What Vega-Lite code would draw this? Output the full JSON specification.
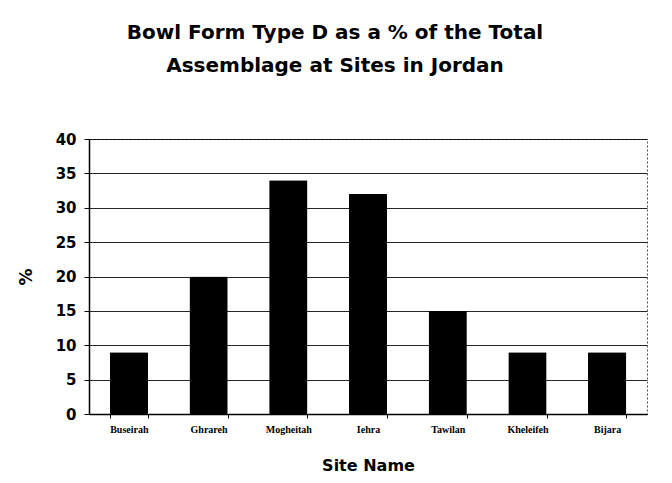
{
  "$schema": "https://vega.github.io/schema/vega-lite/v6.json",
  "width": 558,
  "height": 275,
  "autosize": {"type": "none"},
  "padding": {"left": 89, "top": 139, "right": 25, "bottom": 69},
  "background": "white",
  "title": {
    "text": ["Bowl Form Type D as a % of the Total", "Assemblage at Sites in Jordan"],
    "font": "DejaVu Sans",
    "fontSize": 20,
    "fontWeight": "bold",
    "color": "black",
    "lineHeight": 33,
    "anchor": "middle",
    "frame": "group",
    "dx": -33,
    "offset": 56
  },
  "data": {
    "values": [
      {"site": "Buseirah", "pct": 9},
      {"site": "Ghrareh", "pct": 20},
      {"site": "Mogheitah", "pct": 34},
      {"site": "Iehra", "pct": 32},
      {"site": "Tawilan", "pct": 15},
      {"site": "Kheleifeh", "pct": 9},
      {"site": "Bijara", "pct": 9}
    ]
  },
  "mark": {"type": "bar", "color": "black", "cornerRadius": 1},
  "encoding": {
    "x": {
      "field": "site",
      "type": "nominal",
      "sort": null,
      "scale": {"paddingInner": 0.52, "paddingOuter": 0.26},
      "axis": {
        "title": "Site Name",
        "titleFont": "DejaVu Sans",
        "titleFontSize": 16,
        "titleFontWeight": "bold",
        "titleColor": "black",
        "titlePadding": 23,
        "labelAngle": 0,
        "labelFont": "Liberation Serif",
        "labelFontSize": 10,
        "labelFontWeight": "bold",
        "labelColor": "black",
        "labelPadding": 6,
        "tickBand": "extent",
        "tickSize": 4,
        "tickColor": "black",
        "domainColor": "black",
        "domainWidth": 1.5
      }
    },
    "y": {
      "field": "pct",
      "type": "quantitative",
      "scale": {"domain": [0, 40], "nice": false},
      "axis": {
        "title": "%",
        "titleFont": "DejaVu Sans",
        "titleFontSize": 17,
        "titleFontWeight": "bold",
        "titleColor": "black",
        "titlePadding": 20,
        "titleAngle": -90,
        "values": [0, 5, 10, 15, 20, 25, 30, 35, 40],
        "labelFont": "DejaVu Sans",
        "labelFontSize": 15,
        "labelFontWeight": "bold",
        "labelColor": "black",
        "labelPadding": 8,
        "tickSize": 5,
        "tickColor": "black",
        "domainColor": "black",
        "domainWidth": 1.5,
        "gridColor": "black",
        "gridWidth": 1,
        "gridOpacity": 0.85
      }
    }
  },
  "config": {
    "view": {"stroke": "#555", "strokeDash": [2, 2], "strokeWidth": 1}
  }
}
